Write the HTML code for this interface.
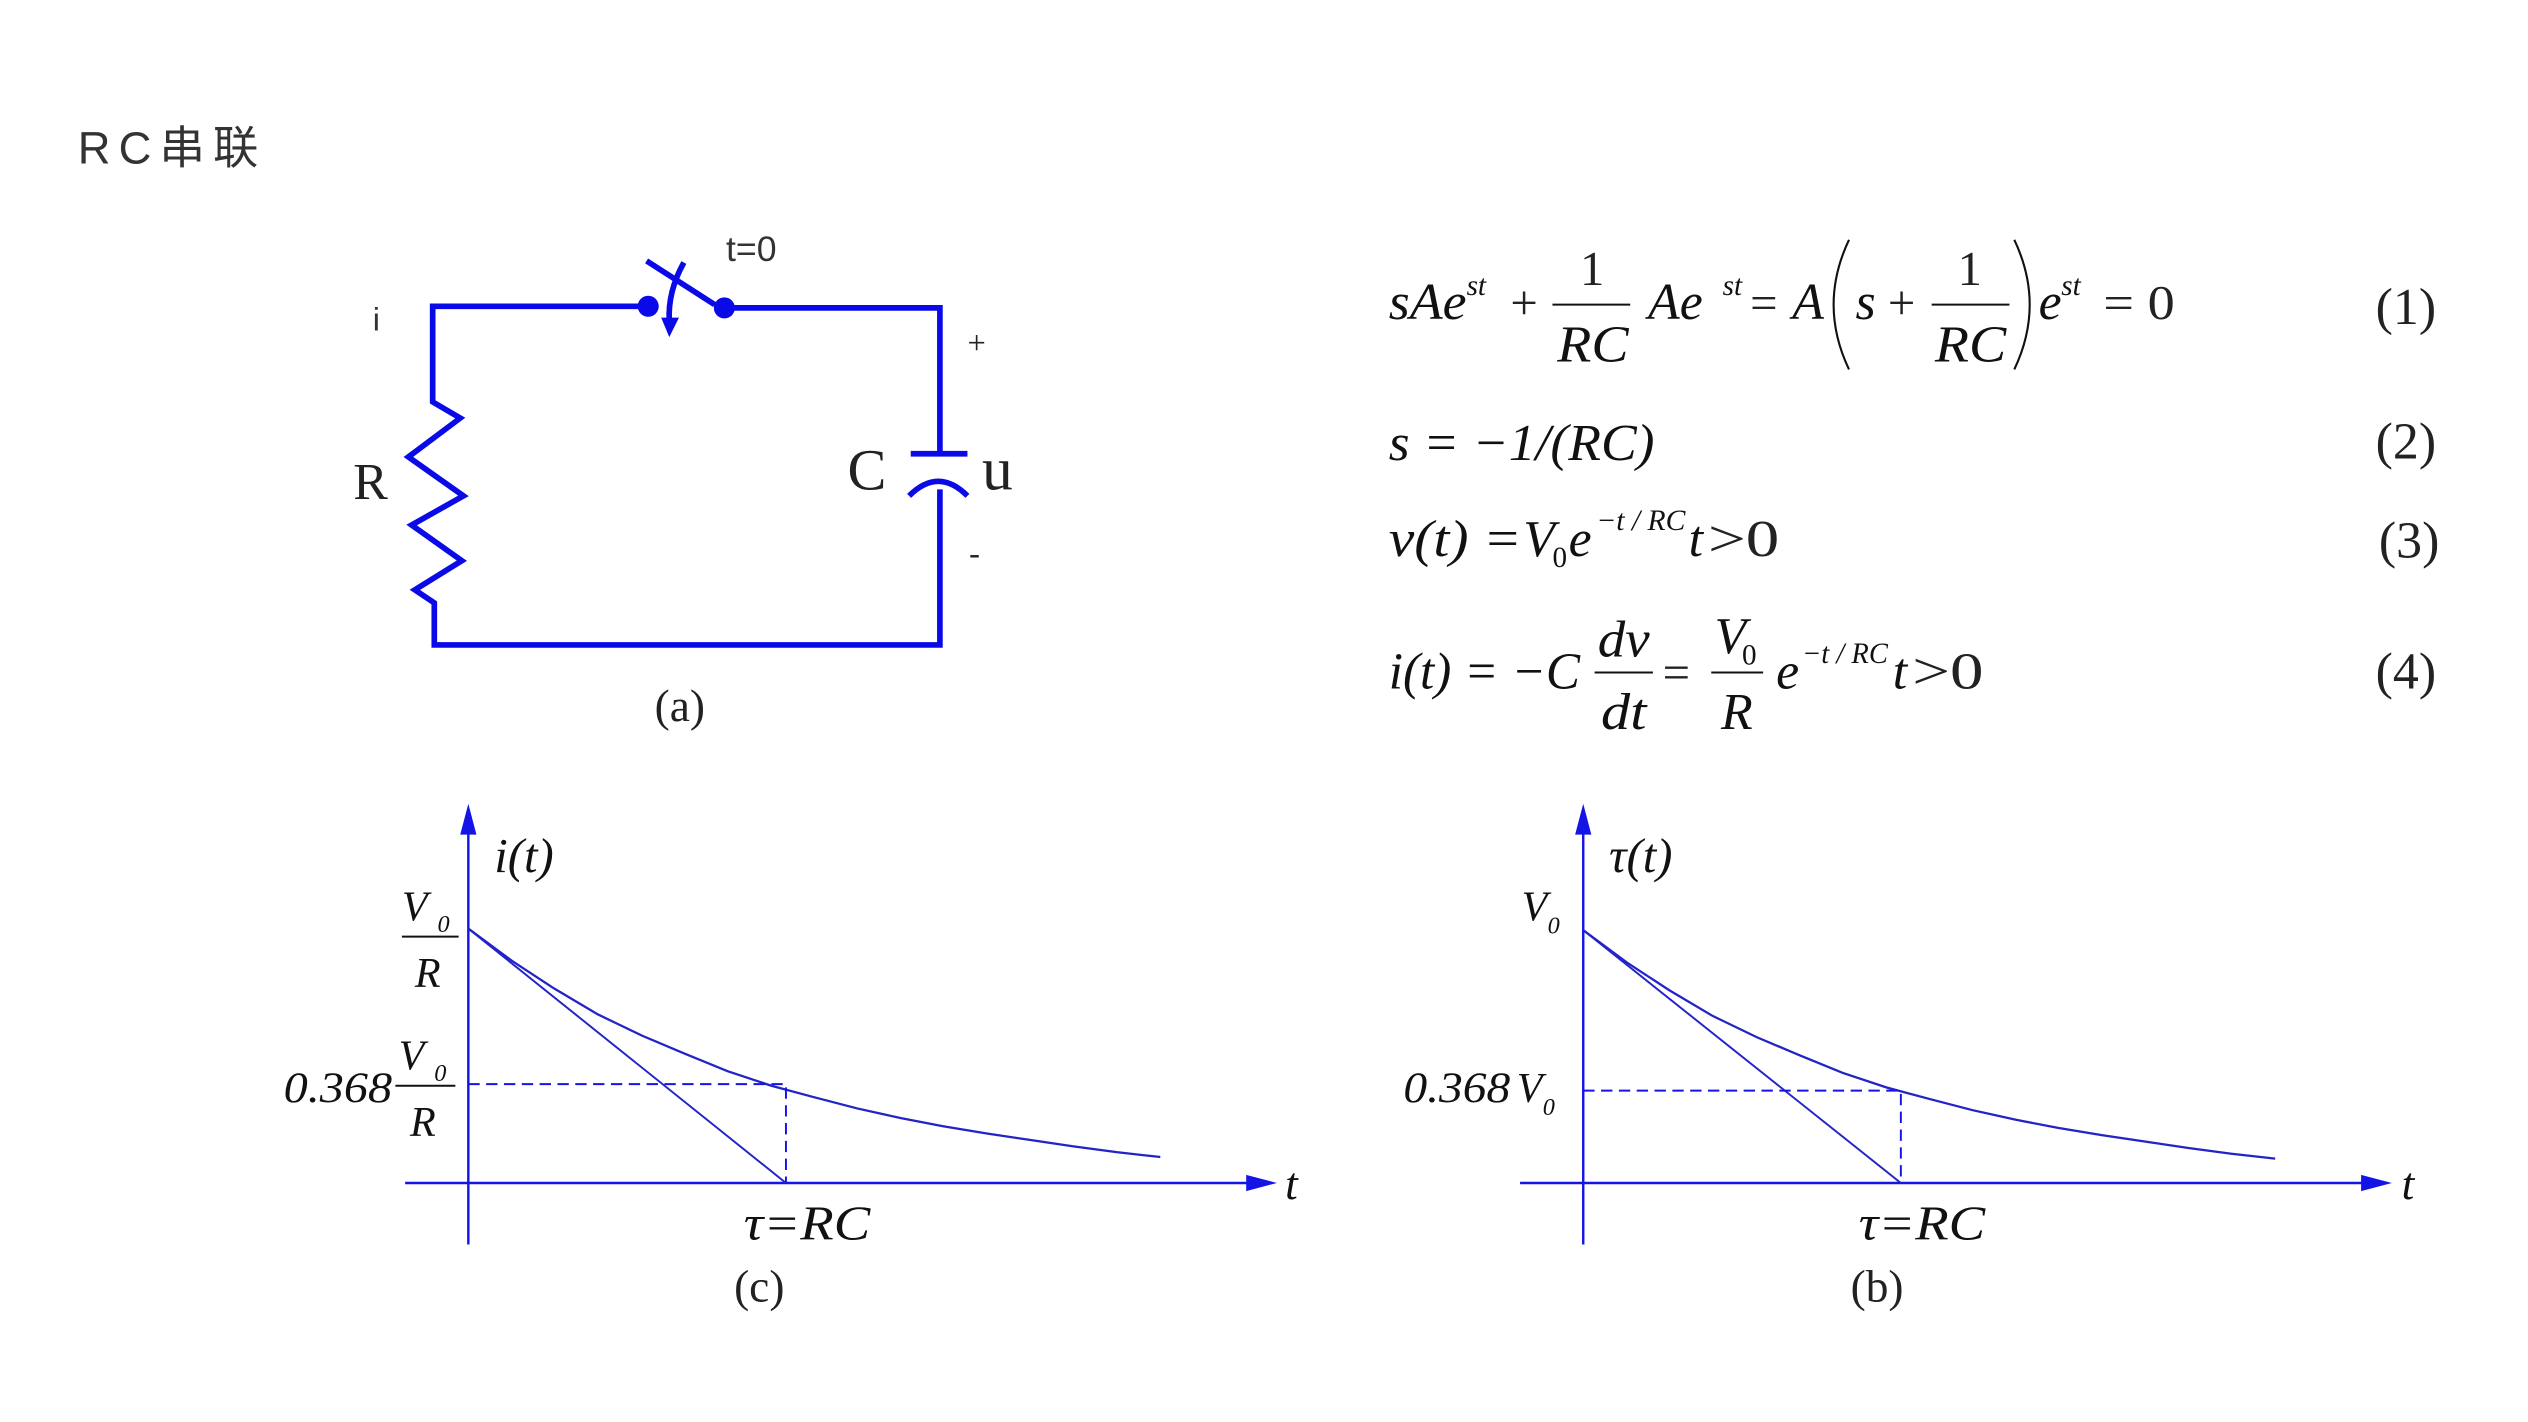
<!DOCTYPE html>
<html><head><meta charset="utf-8"><style>
html,body{margin:0;padding:0;background:#fff;}
svg{display:block;}
.m{font-family:"Liberation Serif",serif;font-style:italic;fill:#111;}
.r{font-family:"Liberation Serif",serif;fill:#222;}
</style></head><body>
<svg width="2528" height="1422" viewBox="0 0 1560 877.5" xmlns="http://www.w3.org/2000/svg">
<rect width="1560" height="877.5" fill="#fff"/>
<text x="48" y="101" font-family="'Liberation Sans','Noto Sans CJK SC',sans-serif" font-size="28" fill="#333" letter-spacing="5">RC串联</text>

<!-- circuit -->
<g stroke="#0a0ae8" stroke-width="3.5" fill="none">
<polyline points="400,189 267,189 267,248 284,258 252,282 286,306 254,324 285,346 256,364 268,372 268,398 580,398 580,302"/>
<polyline points="447,190 580,190 580,280"/>
<line x1="562" y1="280" x2="597" y2="280"/>
<path d="M561,306 Q579,288 597,306"/>
<line x1="399" y1="161" x2="441" y2="188"/>
<path d="M422,162 Q412,180 413,198"/>
</g>
<g fill="#0a0ae8">
<circle cx="400" cy="189" r="6.5"/><circle cx="447" cy="190" r="6.5"/>
<polygon points="408,196 419,196 413,208"/>
</g>
<text x="230" y="204" font-family="'Liberation Sans',sans-serif" font-size="20" fill="#333">i</text>
<text x="448" y="161" font-family="'Liberation Sans',sans-serif" font-size="22" fill="#333">t=0</text>
<text x="218" y="308" class="r" font-size="32">R</text>
<text x="523" y="302" class="r" font-size="36">C</text>
<text x="606" y="302" class="r" font-size="38">u</text>
<text x="597" y="218" class="r" font-size="20">+</text>
<text x="598" y="348" class="r" font-size="20">-</text>
<text x="404" y="445" class="r" font-size="28">(a)</text>

<!-- equations -->
<g class="m" font-size="32">
<text x="857" y="197" textLength="48" lengthAdjust="spacingAndGlyphs">sAe</text>
<text x="905" y="182" font-size="18">st</text>
<text x="932" y="197" class="r" font-size="30" style="font-style:normal">+</text>
<text x="975" y="176" class="r" font-size="30" style="font-style:normal">1</text>
<line x1="958" y1="188" x2="1006" y2="188" stroke="#111" stroke-width="1.2"/>
<text x="961" y="223" textLength="44" lengthAdjust="spacingAndGlyphs">RC</text>
<text x="1017" y="197">Ae</text>
<text x="1063" y="182" font-size="18">st</text>
<text x="1080" y="197" class="r" font-size="30" style="font-style:normal">=</text>
<text x="1106" y="197">A</text>
<path d="M1141,148 Q1122,188 1141,228" stroke="#111" stroke-width="1.3" fill="none"/>
<text x="1145" y="197">s</text>
<text x="1165" y="197" class="r" font-size="30" style="font-style:normal">+</text>
<text x="1208" y="176" class="r" font-size="30" style="font-style:normal">1</text>
<line x1="1192" y1="188" x2="1240" y2="188" stroke="#111" stroke-width="1.2"/>
<text x="1194" y="223" textLength="44" lengthAdjust="spacingAndGlyphs">RC</text>
<path d="M1243,148 Q1262,188 1243,228" stroke="#111" stroke-width="1.3" fill="none"/>
<text x="1258" y="197">e</text>
<text x="1272" y="182" font-size="18">st</text>
<text x="1298" y="197" class="r" font-size="30" style="font-style:normal" textLength="44" lengthAdjust="spacingAndGlyphs">= 0</text>

<text x="857" y="284" textLength="164" lengthAdjust="spacingAndGlyphs">s = −1/(RC)</text>

<text x="857" y="343" textLength="82" lengthAdjust="spacingAndGlyphs">v(t) = </text>
<text x="940" y="343">V</text><text x="958" y="350" font-size="18" style="font-style:normal">0</text>
<text x="968" y="343">e</text>
<text x="985" y="327" font-size="18" textLength="55" lengthAdjust="spacingAndGlyphs">−t / RC</text>
<text x="1042" y="343">t</text><text x="1054" y="343" class="r" style="font-style:normal" textLength="44" lengthAdjust="spacingAndGlyphs">&gt;0</text>

<text x="857" y="425" textLength="118" lengthAdjust="spacingAndGlyphs">i(t) = −C</text>
<text x="986" y="405" textLength="32" lengthAdjust="spacingAndGlyphs">dv</text>
<line x1="984" y1="415" x2="1020" y2="415" stroke="#111" stroke-width="1.2"/>
<text x="988" y="450" textLength="28" lengthAdjust="spacingAndGlyphs">dt</text>
<text x="1026" y="425" class="r" font-size="30" style="font-style:normal">=</text>
<text x="1058" y="403">V</text><text x="1075" y="410" font-size="18" style="font-style:normal">0</text>
<line x1="1056" y1="415" x2="1088" y2="415" stroke="#111" stroke-width="1.2"/>
<text x="1062" y="450">R</text>
<text x="1096" y="425">e</text>
<text x="1112" y="409" font-size="18" textLength="53" lengthAdjust="spacingAndGlyphs">−t / RC</text>
<text x="1168" y="425">t</text><text x="1180" y="425" class="r" style="font-style:normal" textLength="44" lengthAdjust="spacingAndGlyphs">&gt;0</text>
</g>
<g class="r" font-size="32">
<text x="1466" y="200">(1)</text>
<text x="1466" y="283">(2)</text>
<text x="1468" y="344">(3)</text>
<text x="1466" y="425">(4)</text>
</g>

<!-- graph c -->
<g stroke="#1414e6" fill="none">
<line x1="289" y1="508" x2="289" y2="768" stroke-width="1.5"/>
<line x1="250" y1="730" x2="774" y2="730" stroke-width="1.5"/>
<line x1="289" y1="573" x2="485" y2="730" stroke-width="1.2" stroke="#2323c8"/>
<polyline stroke="#2323c8" stroke-width="1.4" points="289,573 316,593 342,610 369,626 396,639 422,650 449,661 476,670 502,677 529,684 556,690 582,695 609,699.5 636,703.5 663,707.5 689,711 716,714"/>
<polyline points="289,669 485,669 485,730" stroke-width="1.2" stroke-dasharray="7,4"/>
</g>
<polygon points="289,496 284,515 294,515" fill="#1414e6"/>
<polygon points="788,730 769,725 769,735" fill="#1414e6"/>
<g class="m" font-size="30">
<text x="305" y="538">i(t)</text>
<text x="248" y="568" font-size="26">V</text><text x="270" y="575" font-size="15">0</text>
<line x1="248" y1="578" x2="283" y2="578" stroke="#111" stroke-width="1.2"/>
<text x="256" y="609" font-size="26">R</text>
<text x="175" y="680" font-size="27" textLength="67" lengthAdjust="spacingAndGlyphs">0.368</text>
<text x="246" y="660" font-size="26">V</text><text x="268" y="667" font-size="15">0</text>
<line x1="244" y1="670" x2="281" y2="670" stroke="#111" stroke-width="1.2"/>
<text x="253" y="701" font-size="26">R</text>
<text x="459" y="765" font-size="30" textLength="78" lengthAdjust="spacingAndGlyphs">τ=RC</text>
<text x="793" y="740" font-size="28">t</text>
</g>
<text x="453" y="803" class="r" font-size="28">(c)</text>

<!-- graph b -->
<g stroke="#1414e6" fill="none">
<line x1="977" y1="508" x2="977" y2="768" stroke-width="1.5"/>
<line x1="938" y1="730" x2="1462" y2="730" stroke-width="1.5"/>
<line x1="977" y1="574" x2="1173" y2="730" stroke-width="1.2" stroke="#2323c8"/>
<polyline stroke="#2323c8" stroke-width="1.4" points="977,574 1004,594 1030,611 1057,627 1084,640 1110,651 1137,662 1164,671 1190,678 1217,685 1244,691 1270,696 1297,700.5 1324,704.5 1351,708.5 1377,712 1404,715"/>
<polyline points="977,673 1173,673 1173,730" stroke-width="1.2" stroke-dasharray="7,4"/>
</g>
<polygon points="977,496 972,515 982,515" fill="#1414e6"/>
<polygon points="1476,730 1457,725 1457,735" fill="#1414e6"/>
<g class="m" font-size="30">
<text x="993" y="538">τ(t)</text>
<text x="939" y="568" font-size="26">V</text><text x="955" y="576" font-size="15">0</text>
<text x="866" y="680" font-size="27" textLength="66" lengthAdjust="spacingAndGlyphs">0.368</text>
<text x="936" y="680" font-size="26">V</text><text x="952" y="688" font-size="15">0</text>
<text x="1147" y="765" font-size="30" textLength="78" lengthAdjust="spacingAndGlyphs">τ=RC</text>
<text x="1482" y="740" font-size="28">t</text>
</g>
<text x="1142" y="803" class="r" font-size="28">(b)</text>
</svg>
</body></html>
